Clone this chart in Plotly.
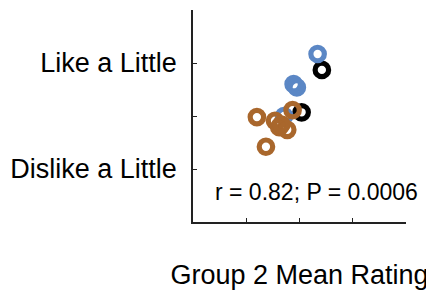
import plotly.graph_objects as go

# Data (Group 2 mean rating on x, other group mean rating on y)
black_x = [4.42, 4.04]
black_y = [4.87, 4.07]
blue_x = [4.34, 3.89, 3.95, 3.71]
blue_y = [5.17, 4.60, 4.54, 4.00]
brown_x = [3.87, 3.20, 3.54, 3.62, 3.77, 3.66, 3.37]
brown_y = [4.11, 3.98, 3.91, 3.79, 3.74, 3.84, 3.42]

y_tickvals = [2, 3, 4, 5, 6]
y_ticktext = ["", "Dislike a Little", "", "Like a Little", ""]
x_tickvals = [2, 3, 4, 5, 6]

stat_text = "r = 0.82; P = 0.0006"
x_title = "Group 2 Mean Rating"

FONT = "Liberation Sans, Arial, Helvetica, sans-serif"

fig = go.Figure()
for xs, ys, col in [(black_x, black_y, "#000000"),
                    (blue_x, blue_y, "#5b87c5"),
                    (brown_x, brown_y, "#a9672c")]:
    fig.add_trace(go.Scatter(
        x=xs, y=ys, mode="markers",
        marker=dict(symbol="circle-open", size=13.5, line=dict(width=5.2, color=col), color=col),
        showlegend=False, cliponaxis=False))

fig.add_annotation(x=4.31, y=2.57, xref="x", yref="y", text=stat_text, showarrow=False,
                   font=dict(family=FONT, size=23, color="#000"), xanchor="center", yanchor="middle")

fig.update_layout(
    width=426, height=284,
    margin=dict(l=185, r=28, t=2, b=70),
    plot_bgcolor="white", paper_bgcolor="white",
    font=dict(family=FONT, color="#000"),
    xaxis=dict(range=[2, 6], tickvals=x_tickvals, ticktext=[""] * 5, ticks="inside", ticklen=4,
               tickcolor="#222", showline=True, linecolor="#222", linewidth=1.5, showgrid=False,
               zeroline=False, automargin=False,
               title=dict(text=x_title, font=dict(family=FONT, size=27, color="#000"), standoff=40)),
    yaxis=dict(range=[2, 6], tickvals=y_tickvals, ticktext=y_ticktext, ticks="inside", ticklen=4,
               tickcolor="#222", showline=True, linecolor="#222", linewidth=1.5, showgrid=False,
               zeroline=False, automargin=False, ticklabelstandoff=9,
               tickfont=dict(family=FONT, size=27, color="#000")),
)

fig.write_html("out.html")
